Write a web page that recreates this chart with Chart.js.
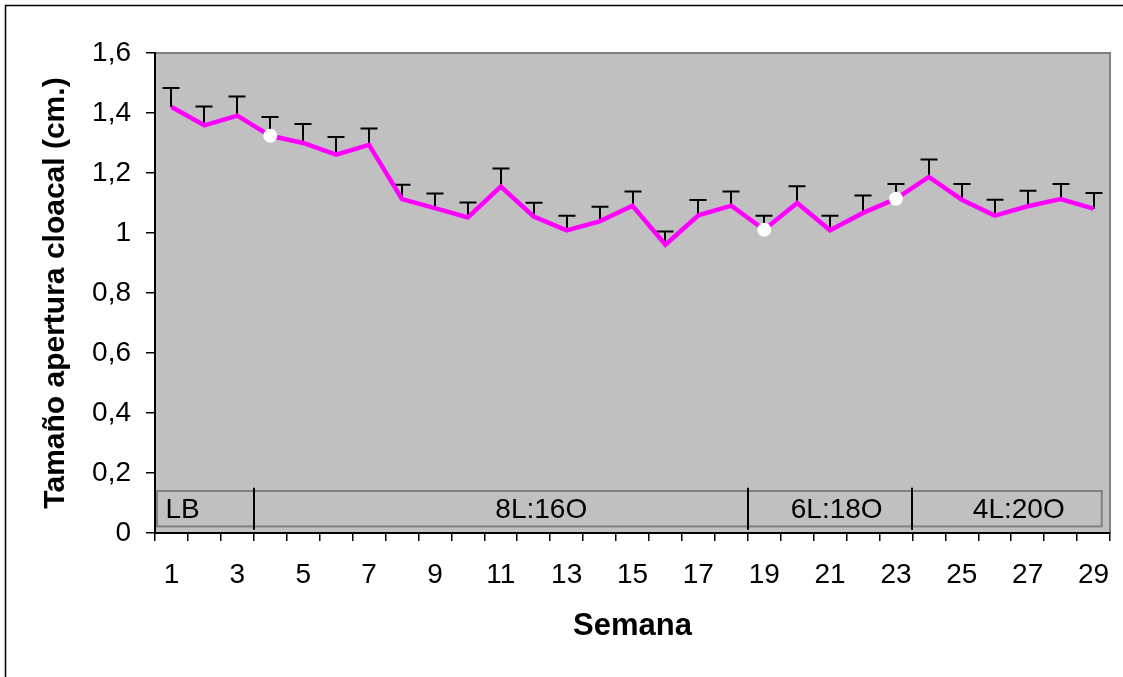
<!DOCTYPE html>
<html lang="es">
<head>
<meta charset="utf-8">
<title>Tamaño apertura cloacal por semana</title>
<script src="https://cdn.jsdelivr.net/npm/chart.js@4.4.0/dist/chart.umd.min.js"></script>
<style>
  html, body { margin: 0; padding: 0; background: #ffffff; }
  #wrap { width: 1123px; height: 677px; }
</style>
</head>
<body>
<div id="wrap"><canvas id="cloacaChart" width="1123" height="677"></canvas></div>
<script>
/**
 * Tamaño de la apertura cloacal por semana, con fotoperiodos
 */

// Semanas (categorías del eje X)
const semanas = ['1', '2', '3', '4', '5', '6', '7', '8', '9', '10',
                 '11', '12', '13', '14', '15', '16', '17', '18', '19', '20',
                 '21', '22', '23', '24', '25', '26', '27', '28', '29'];

// Tamaño medio de la apertura cloacal (cm.)
const medias = [1.420, 1.359, 1.391, 1.324, 1.300, 1.261, 1.294, 1.113, 1.083, 1.052,
                1.155, 1.055, 1.009, 1.039, 1.091, 0.961, 1.059, 1.091, 1.011, 1.100,
                1.009, 1.067, 1.114, 1.187, 1.111, 1.058, 1.089, 1.113, 1.081];

// Error (solo se dibuja hacia arriba)
const errores = [0.067, 0.066, 0.067, 0.066, 0.067, 0.062, 0.058, 0.051, 0.052, 0.053,
                 0.063, 0.049, 0.052, 0.052, 0.051, 0.047, 0.054, 0.051, 0.050, 0.059,
                 0.052, 0.061, 0.053, 0.061, 0.056, 0.056, 0.055, 0.054, 0.056];

// Semanas marcadas con un punto blanco
const semanasMarcadas = [4, 19, 23];

// Marcas del eje Y
const ticksY = [0, 0.2, 0.4, 0.6, 0.8, 1.0, 1.2, 1.4, 1.6];

// Fotoperiodos (cambios entre semanas, en unidades de semana)
const fases = ['LB', '8L:16O', '6L:18O', '4L:20O'];
const cambiosFase = [3.5, 18.5, 23.5];
const posTextoFase = [0.82, 12.23, 21.2, 26.73];
const bandaInicio = 0.56;
const bandaFin = 29.25;

const FUENTE = '"Liberation Sans", Arial, sans-serif';

/**
 * Fondo blanco, marco exterior y área de trazado gris
 */
const fondoPlugin = {
    id: 'fondo',
    beforeDraw(chart) {
        const { ctx, chartArea: a, width, height } = chart;
        ctx.save();
        ctx.fillStyle = '#ffffff';
        ctx.fillRect(0, 0, width, height);

        // Marco del gráfico (solo izquierda y arriba quedan dentro)
        ctx.strokeStyle = '#000000';
        ctx.lineWidth = 1.5;
        ctx.beginPath();
        ctx.moveTo(5.5, height);
        ctx.lineTo(5.5, 5.5);
        ctx.lineTo(width, 5.5);
        ctx.stroke();

        // Área de trazado
        ctx.fillStyle = '#c0c0c0';
        ctx.fillRect(a.left, a.top, a.right - a.left, a.bottom - a.top);
        ctx.strokeStyle = '#808080';
        ctx.lineWidth = 2;
        ctx.beginPath();
        ctx.moveTo(a.left, a.top);
        ctx.lineTo(a.right, a.top);
        ctx.lineTo(a.right, a.bottom);
        ctx.stroke();
        ctx.restore();
    }
};

/**
 * Banda de fotoperiodos y barras de error
 */
const anotacionesPlugin = {
    id: 'anotaciones',
    beforeDatasetsDraw(chart) {
        const { ctx, scales: { x, y } } = chart;
        const px = s => x.getPixelForValue(s - 1);
        const top = y.getPixelForValue(0.140);
        const bottom = y.getPixelForValue(0.022);

        ctx.save();
        // Caja de la banda
        ctx.strokeStyle = '#808080';
        ctx.lineWidth = 2;
        ctx.strokeRect(px(bandaInicio), top, px(bandaFin) - px(bandaInicio), bottom - top);

        // Separadores
        ctx.strokeStyle = '#000000';
        ctx.lineWidth = 2;
        cambiosFase.forEach(s => {
            ctx.beginPath();
            ctx.moveTo(Math.round(px(s)), y.getPixelForValue(0.151));
            ctx.lineTo(Math.round(px(s)), y.getPixelForValue(0.011));
            ctx.stroke();
        });

        // Textos
        ctx.fillStyle = '#000000';
        ctx.font = '28px ' + FUENTE;
        ctx.textBaseline = 'middle';
        fases.forEach((texto, i) => {
            ctx.textAlign = i === 0 ? 'left' : 'center';
            ctx.fillText(texto, px(posTextoFase[i]), (top + bottom) / 2 + 2);
        });

        // Barras de error (hacia arriba, con remate en T)
        ctx.strokeStyle = '#000000';
        ctx.lineWidth = 2;
        medias.forEach((m, i) => {
            const xp = Math.round(x.getPixelForValue(i));
            const y0 = y.getPixelForValue(m);
            const y1 = y.getPixelForValue(m + errores[i]) + 1;
            ctx.beginPath();
            ctx.moveTo(xp, y0);
            ctx.lineTo(xp, y1);
            ctx.moveTo(xp - 8.5, y1);
            ctx.lineTo(xp + 8.5, y1);
            ctx.stroke();
        });
        ctx.restore();
    }
};

document.addEventListener('DOMContentLoaded', function() {
    const ctx = document.getElementById('cloacaChart').getContext('2d');

    new Chart(ctx, {
        type: 'line',
        data: {
            labels: semanas,
            datasets: [{
                data: medias,
                borderColor: '#ff00ff',
                borderWidth: 4.5,
                tension: 0,
                pointRadius: c => semanasMarcadas.includes(c.dataIndex + 1) ? 7 : 0,
                pointBackgroundColor: '#ffffff',
                pointBorderWidth: 0,
                clip: false
            }]
        },
        options: {
            responsive: false,
            animation: false,
            layout: { padding: { top: 53, right: 13, left: 0, bottom: 0 } },
            plugins: {
                legend: { display: false },
                tooltip: { enabled: false }
            },
            scales: {
                x: {
                    type: 'category',
                    offset: true,
                    grid: {
                        offset: true,
                        drawOnChartArea: false,
                        drawTicks: true,
                        tickLength: 8,
                        color: '#000000',
                        lineWidth: 1.5
                    },
                    border: { display: true, color: '#000000', width: 2 },
                    ticks: {
                        autoSkip: false,
                        maxRotation: 0,
                        padding: 17,
                        color: '#000000',
                        font: { family: FUENTE, size: 28 },
                        callback: (v, i) => i % 2 === 0 ? semanas[i] : ''
                    },
                    title: {
                        display: true,
                        text: 'Semana',
                        color: '#000000',
                        font: { family: FUENTE, size: 31, weight: 'bold' },
                        padding: { top: 0, bottom: 32 }
                    },
                    afterFit: scale => {
                        scale.height = 144;
                        scale.paddingLeft = 0;
                        scale.paddingRight = 0;
                    }
                },
                y: {
                    min: 0,
                    max: 1.6,
                    afterBuildTicks: axis => {
                        axis.ticks = ticksY.map(v => ({ value: v }));
                    },
                    grid: {
                        drawOnChartArea: false,
                        drawTicks: true,
                        tickLength: 9,
                        color: '#000000',
                        lineWidth: 1.5
                    },
                    border: { display: true, color: '#000000', width: 2 },
                    ticks: {
                        padding: 15,
                        color: '#000000',
                        font: { family: FUENTE, size: 28 },
                        callback: v => String(Number(v.toFixed(1))).replace('.', ',')
                    },
                    title: {
                        display: true,
                        text: 'Tamaño apertura cloacal (cm.)',
                        color: '#000000',
                        font: { family: FUENTE, size: 30, weight: 'bold' },
                        padding: { top: 38, bottom: 0 }
                    },
                    afterFit: scale => {
                        scale.width = 155;
                        scale.paddingTop = 0;
                        scale.paddingBottom = 0;
                    }
                }
            }
        },
        plugins: [fondoPlugin, anotacionesPlugin]
    });
});
</script>
</body>
</html>
